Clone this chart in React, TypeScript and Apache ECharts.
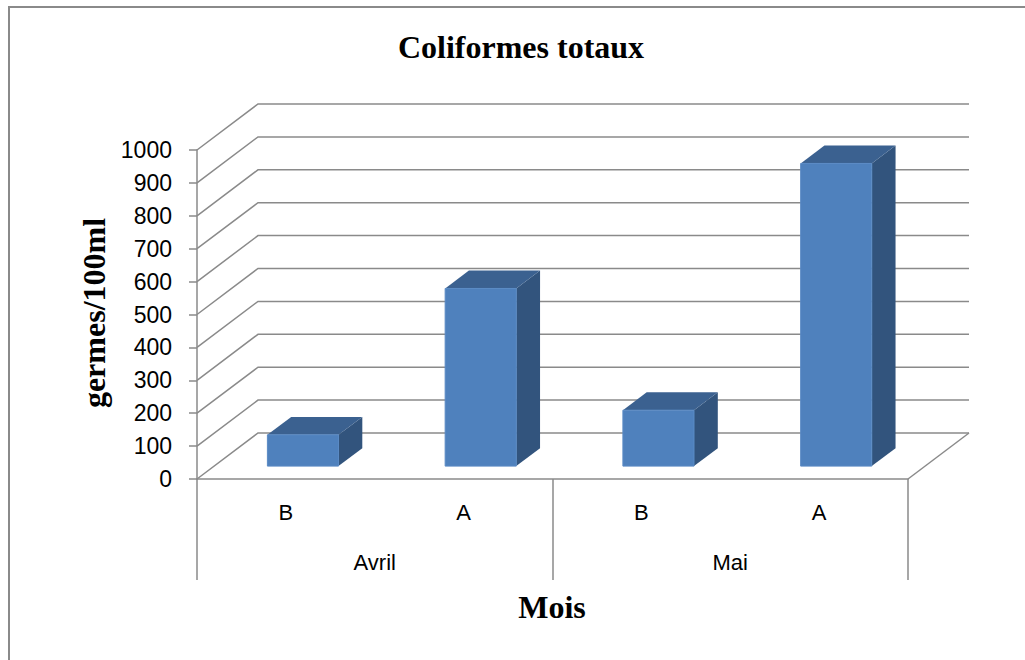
import React, { useEffect, useRef } from "react";
import * as echarts from "echarts";

const categories = ["B", "A", "B", "A"];
const months = ["Avril", "Mai"];
const values = [95, 540, 170, 920];
const yTicks = [0, 100, 200, 300, 400, 500, 600, 700, 800, 900, 1000];

const DX = 61;
const DY = 46;
const F0 = 0.28;
const F1 = 0.67;
const GRAY = "#8a8a8a";

export default function App() {
  const ref = useRef<HTMLDivElement>(null);
  useEffect(() => {
    const chart = echarts.init(ref.current!, undefined, { renderer: "svg" });
    const option: any = {
      animation: false,
      backgroundColor: "#ffffff",
      grid: { left: 197, right: 117, top: 150, bottom: 181, containLabel: false },
      xAxis: [
        {
          type: "category",
          data: categories,
          position: "bottom",
          axisLine: { show: true, lineStyle: { color: GRAY, width: 1.5 } },
          axisTick: { show: false },
          axisLabel: { color: "#000", fontSize: 22, fontFamily: "Liberation Sans", margin: 22 },
        },
        {
          type: "category",
          data: months,
          position: "bottom",
          axisLine: { show: false },
          axisTick: { show: true, length: 101, lineStyle: { color: GRAY, width: 1.5 } },
          axisLabel: { color: "#000", fontSize: 22, fontFamily: "Liberation Sans", margin: 72 },
        },
      ],
      yAxis: {
        type: "value",
        min: 0,
        max: 1000,
        interval: 100,
        axisLine: { show: true, lineStyle: { color: GRAY, width: 1.5 } },
        axisTick: { show: true, length: 8, lineStyle: { color: GRAY, width: 1.5 } },
        splitLine: { show: false },
        axisLabel: {
          color: "#000",
          fontSize: 23,
          fontFamily: "Liberation Sans",
          margin: 25,
          formatter: (v: number) => String(v),
        },
      },
      graphic: [
        {
          type: "polyline",
          shape: { points: [[9, 700], [9, 7], [1100, 7]] },
          style: { fill: "none", stroke: GRAY, lineWidth: 2 },
          silent: true,
        },
        {
          type: "text",
          x: 521,
          y: 47,
          style: {
            text: "Coliformes totaux",
            font: "bold 32px 'Liberation Serif'",
            fill: "#000",
            textAlign: "center",
            textVerticalAlign: "middle",
          },
        },
        {
          type: "text",
          x: 94,
          y: 313,
          rotation: Math.PI / 2,
          style: {
            text: "germes/100ml",
            font: "bold 32px 'Liberation Serif'",
            fill: "#000",
            textAlign: "center",
            textVerticalAlign: "middle",
          },
        },
        {
          type: "text",
          x: 552,
          y: 607,
          style: {
            text: "Mois",
            font: "bold 32px 'Liberation Serif'",
            fill: "#000",
            textAlign: "center",
            textVerticalAlign: "middle",
          },
        },
      ],
      series: [
        {
          type: "custom",
          z: 1,
          clip: false,
          silent: true,
          data: yTicks.map((t) => [0, t]),
          renderItem: (params: any, api: any) => {
            const t = api.value(1);
            const y = api.coord([0, t])[1];
            const cs = params.coordSys;
            const xL = cs.x;
            const xR = cs.x + cs.width;
            const children: any[] = [
              {
                type: "polyline",
                shape: { points: [[xL, y], [xL + DX, y - DY], [xR + DX, y - DY]] },
                style: { stroke: GRAY, lineWidth: 1.5, fill: "none" },
              },
            ];
            if (t === 0) {
              children.push({
                type: "line",
                shape: { x1: xR, y1: y, x2: xR + DX, y2: y - DY },
                style: { stroke: GRAY, lineWidth: 1.5 },
              });
            }
            return { type: "group", children };
          },
        },
        {
          type: "custom",
          z: 3,
          clip: false,
          data: values.map((v, i) => [i, v]),
          renderItem: (params: any, api: any) => {
            const i = api.value(0);
            const v = api.value(1);
            const top = api.coord([i, v]);
            const base = api.coord([i, 0]);
            const w = api.size([1, 0])[0] * 0.4;
            const ox = F0 * DX;
            const oy = -F0 * DY;
            const dx = (F1 - F0) * DX;
            const dy = -(F1 - F0) * DY;
            const x0 = top[0] - w / 2 + ox;
            const x1 = x0 + w;
            const yT = top[1] + oy;
            const yB = base[1] + oy;
            return {
              type: "group",
              children: [
                {
                  type: "polygon",
                  shape: { points: [[x1, yT], [x1 + dx, yT + dy], [x1 + dx, yB + dy], [x1, yB]] },
                  style: { fill: "#32547D" },
                },
                {
                  type: "polygon",
                  shape: { points: [[x0, yT], [x1, yT], [x1 + dx, yT + dy], [x0 + dx, yT + dy]] },
                  style: { fill: "#3B6190" },
                },
                {
                  type: "rect",
                  shape: { x: x0, y: yT, width: w, height: yB - yT },
                  style: { fill: "#4F81BD", stroke: "#5A8AC4", lineWidth: 1 },
                },
              ],
            };
          },
        },
      ],
    };
    chart.setOption(option);
    return () => chart.dispose();
  }, []);
  return (
    <div
      ref={ref}
      style={{ position: "fixed", left: 0, top: 0, width: 1025, height: 660 }}
    />
  );
}
